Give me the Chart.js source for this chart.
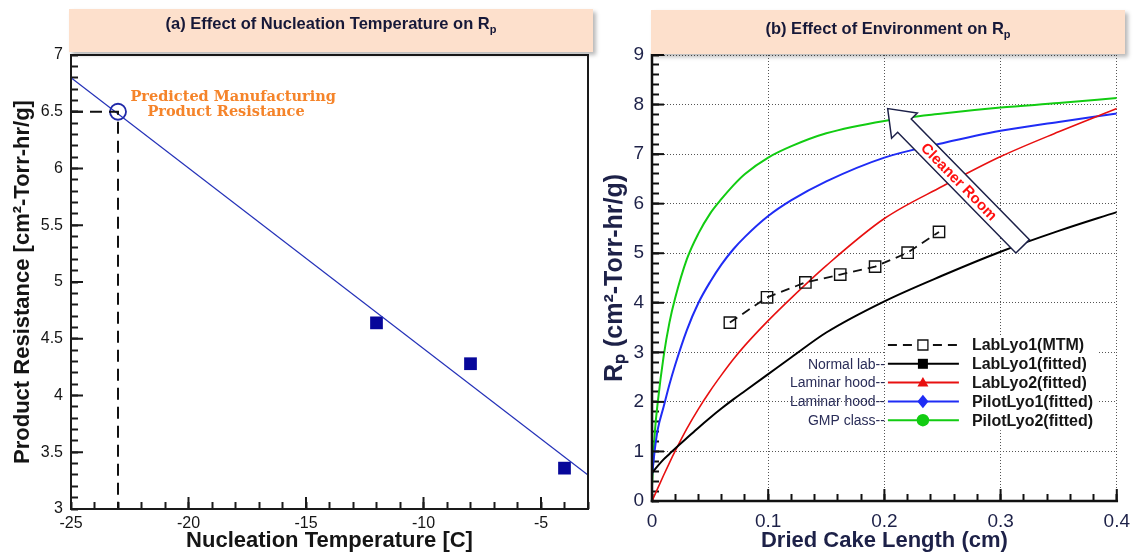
<!DOCTYPE html>
<html>
<head>
<meta charset="utf-8">
<script src="https://cdn.jsdelivr.net/npm/chart.js@4.4.1/dist/chart.umd.min.js"></script>
<style>
html,body{margin:0;padding:0;background:#fff;}
body{width:1146px;height:554px;overflow:hidden;position:relative;font-family:"Liberation Sans",Arial,sans-serif;}
canvas{position:absolute;top:0;}
#c1{left:0;}
#c2{left:600px;}
.ttl{position:absolute;background:#fde0cc;box-shadow:3px 3px 4px rgba(0,0,0,0.28);font-weight:bold;font-size:16.5px;line-height:19px;color:#161838;text-align:center;white-space:nowrap;box-sizing:border-box;}
.ttl sub{font-size:11px;vertical-align:-4px;line-height:0;}
#t1{left:69px;top:9px;width:524px;height:43px;padding-top:5px;}
#t2{left:651px;top:10px;width:474px;height:44px;padding-top:9px;}
</style>
</head>
<body>
<canvas id="c1" width="600" height="554"></canvas>
<canvas id="c2" width="546" height="554"></canvas>
<div class="ttl" id="t1">(a) Effect of Nucleation Temperature on R<sub>p</sub></div>
<div class="ttl" id="t2">(b) Effect of Environment on R<sub>p</sub></div>
<script>
// ---------------- Panel (a) data ----------------
const tempTicks = [-25, -20, -15, -10, -5];
const fitTemp = [-25, -3];
const fitRp = [6.80, 3.30];
const measTemp = [-12, -8, -4];
const measRp = [4.64, 4.28, 3.36];
const predTemp = [-23];
const predRp = [6.5];
const guideTemp = [-25, -23, -23];
const guideRp = [6.5, 6.5, 3.0];
const noteLines = ['Predicted Manufacturing', 'Product Resistance'];

// ---------------- Panel (b) data ----------------
const cakeLength = [0, 0.0025, 0.005, 0.01, 0.015, 0.02, 0.03, 0.04, 0.05, 0.06, 0.07, 0.08, 0.1, 0.12, 0.15, 0.2, 0.25, 0.3, 0.35, 0.4];
const labLyo1Fit = [0.57, 0.64, 0.71, 0.84, 0.95, 1.06, 1.27, 1.48, 1.68, 1.87, 2.05, 2.22, 2.56, 2.90, 3.40, 4.03, 4.55, 5.03, 5.45, 5.83];
const labLyo2Fit = [0, 0.13, 0.26, 0.52, 0.77, 1.01, 1.46, 1.86, 2.22, 2.55, 2.86, 3.14, 3.64, 4.10, 4.75, 5.70, 6.35, 6.95, 7.45, 7.92];
const pilotLyo1Fit = [0.5, 1.05, 1.45, 1.90, 2.35, 2.75, 3.45, 4.00, 4.42, 4.78, 5.08, 5.33, 5.75, 6.07, 6.45, 6.93, 7.22, 7.47, 7.65, 7.82];
const pilotLyo2Fit = [0.3, 1.40, 2.00, 2.92, 3.60, 4.10, 4.88, 5.40, 5.80, 6.10, 6.37, 6.60, 6.93, 7.16, 7.42, 7.67, 7.82, 7.94, 8.03, 8.13];
const mtmLength = [0.067, 0.099, 0.132, 0.162, 0.192, 0.220, 0.247];
const mtmRp = [3.60, 4.11, 4.41, 4.57, 4.73, 5.01, 5.43];
const seriesNames = ['LabLyo1(MTM)', 'LabLyo1(fitted)', 'LabLyo2(fitted)', 'PilotLyo1(fitted)', 'PilotLyo2(fitted)'];
const environments = ['', 'Normal lab--', 'Laminar hood--', 'Laminar hood--', 'GMP class--'];
const arrowText = 'Cleaner Room';

// axis ranges
const tempRange = [-25, -3];
const rpRangeA = [3, 7];
const lengthRange = [0, 0.4];
const rpRangeB = [0, 9];

// ---------------- helpers ----------------
const pts = (xs, ys) => xs.map((x, i) => ({x: x, y: ys[i]}));
const FONT = '"Liberation Sans", Arial, Helvetica, sans-serif';
const NAVY = '#1d2148';
const INK = '#151515';
const numLabel = v => String(Math.round(v * 100) / 100);
const onStep = (v, m) => Math.abs(v / m - Math.round(v / m)) < 1e-6;
const tickValues = (range, step) => {
  const n = Math.round((range[1] - range[0]) / step);
  return Array.from({length: n + 1}, (_, i) => ({value: range[0] + i * step}));
};
const TICK_IN = -7;   // inward tick marks drawn by Chart.js itself

function makeFrame(cfg) {
  return {
    id: 'tecFrame',
    afterDraw(chart) {
      const ctx = chart.ctx, a = chart.chartArea;
      const xs = chart.scales.x, ys = chart.scales.y;
      const w = cfg.width, tw = cfg.tickWidth;
      ctx.save();
      ctx.fillStyle = cfg.color;
      ctx.fillRect(a.left - w / 2, a.top - w / 2, w, a.bottom - a.top + w);
      ctx.fillRect(a.left - w / 2, a.bottom - w / 2, a.right - a.left + w, w);
      if (cfg.box) {
        ctx.fillRect(a.left - w / 2, a.top - w / 2, a.right - a.left + w, w);
        ctx.fillRect(a.right - w / 2, a.top - w / 2, w, a.bottom - a.top + w);
      }
      // longer major ticks
      const nX = Math.round((cfg.xRange[1] - cfg.xRange[0]) / cfg.xMajor);
      for (let i = 0; i <= nX; i++) {
        const v = cfg.xRange[0] + i * cfg.xMajor;
        const vv = Math.ceil((cfg.xRange[0] - 1e-9) / cfg.xMajor) * cfg.xMajor + i * cfg.xMajor;
        if (vv > cfg.xRange[1] + 1e-9) break;
        const px = xs.getPixelForValue(vv);
        ctx.fillRect(px - tw / 2, a.bottom - cfg.majorLen, tw, cfg.majorLen);
      }
      const nY = Math.round((cfg.yRange[1] - cfg.yRange[0]) / cfg.yMajor);
      for (let i = 0; i <= nY; i++) {
        const py = ys.getPixelForValue(cfg.yRange[0] + i * cfg.yMajor);
        ctx.fillRect(a.left, py - tw / 2, cfg.majorLen, tw);
      }
      ctx.restore();
    }
  };
}

function makeNotes(cfg) {
  return {
    id: 'notes',
    afterDatasetsDraw(chart) {
      const ctx = chart.ctx, x = chart.scales.x, y = chart.scales.y;
      ctx.save();
      ctx.fillStyle = cfg.color;
      ctx.font = cfg.font;
      ctx.textAlign = 'left';
      ctx.textBaseline = 'middle';
      noteLines.forEach((t, i) => ctx.fillText(t, x.getPixelForValue(cfg.x[i]), y.getPixelForValue(cfg.y) + i * cfg.lineGap));
      ctx.restore();
    }
  };
}

function makeArrow(o) {
  return {
    id: 'arrow',
    afterDatasetsDraw(chart) {
      const ctx = chart.ctx, x = chart.scales.x, y = chart.scales.y;
      const tx = x.getPixelForValue(o.tip[0]), ty = y.getPixelForValue(o.tip[1]);
      const bx = x.getPixelForValue(o.tail[0]), by = y.getPixelForValue(o.tail[1]);
      const dx = bx - tx, dy = by - ty, len = Math.hypot(dx, dy);
      const ux = dx / len, uy = dy / len, nx = -uy, ny = ux;
      const hx = tx + ux * o.headLen, hy = ty + uy * o.headLen;
      const P = [[tx, ty],
        [hx + nx * o.headHalf, hy + ny * o.headHalf],
        [hx + nx * o.shaftHalf, hy + ny * o.shaftHalf],
        [bx + nx * o.shaftHalf, by + ny * o.shaftHalf],
        [bx - nx * o.shaftHalf, by - ny * o.shaftHalf],
        [hx - nx * o.shaftHalf, hy - ny * o.shaftHalf],
        [hx - nx * o.headHalf, hy - ny * o.headHalf]];
      ctx.save();
      ctx.beginPath();
      P.forEach((p, i) => i ? ctx.lineTo(p[0], p[1]) : ctx.moveTo(p[0], p[1]));
      ctx.closePath();
      ctx.fillStyle = '#ffffff';
      ctx.fill();
      ctx.strokeStyle = o.stroke;
      ctx.lineWidth = 1.5;
      ctx.lineJoin = 'miter';
      ctx.stroke();
      const cx = tx + ux * len * o.textAt, cy = ty + uy * len * o.textAt;
      ctx.translate(cx, cy);
      ctx.rotate(Math.atan2(dy, dx));
      ctx.fillStyle = o.textColor;
      ctx.font = o.font;
      ctx.textAlign = 'center';
      ctx.textBaseline = 'middle';
      ctx.fillText(arrowText, 0, 1);
      ctx.restore();
    }
  };
}

function drawMarker(ctx, style, cx, cy, r, filled, color) {
  ctx.beginPath();
  if (style === 'rect') {
    ctx.rect(cx - r, cy - r, 2 * r, 2 * r);
  } else if (style === 'triangle') {
    ctx.moveTo(cx, cy - r * 1.1); ctx.lineTo(cx + r * 1.1, cy + r * 0.8); ctx.lineTo(cx - r * 1.1, cy + r * 0.8); ctx.closePath();
  } else if (style === 'rectRot') {
    ctx.moveTo(cx, cy - r * 1.35); ctx.lineTo(cx + r * 1.1, cy); ctx.lineTo(cx, cy + r * 1.35); ctx.lineTo(cx - r * 1.1, cy); ctx.closePath();
  } else {
    ctx.arc(cx, cy, r * 1.25, 0, Math.PI * 2);
  }
  if (filled) { ctx.fillStyle = color; ctx.fill(); }
  else { ctx.fillStyle = '#fff'; ctx.fill(); ctx.lineWidth = 1.3; ctx.strokeStyle = color; ctx.stroke(); }
}

function makeLegend(o) {
  return {
    id: 'envLegend',
    afterDatasetsDraw(chart) {
      const ctx = chart.ctx, x = chart.scales.x, y = chart.scales.y;
      const left = x.getPixelForValue(o.at[0]);
      const row0 = y.getPixelForValue(o.at[1]);
      ctx.save();
      ctx.fillStyle = '#ffffff';
      ctx.fillRect(left, row0 - 10, o.boxW, o.rowH * (seriesNames.length - 1) + 20);
      chart.data.datasets.forEach((ds, i) => {
        const cy = row0 + i * o.rowH;
        ctx.setLineDash(ds.borderDash || []);
        ctx.strokeStyle = ds.borderColor;
        ctx.lineWidth = 2;
        ctx.beginPath();
        ctx.moveTo(left + 2, cy); ctx.lineTo(left + 73, cy);
        ctx.stroke();
        ctx.setLineDash([]);
        drawMarker(ctx, ds.markerStyle, left + 37, cy, 5, ds.markerFilled, ds.borderColor);
        ctx.fillStyle = INK;
        ctx.font = 'bold 16px ' + FONT;
        ctx.textAlign = 'left';
        ctx.textBaseline = 'middle';
        ctx.fillText(seriesNames[i], left + 86, cy + 1);
        if (environments[i]) {
          ctx.fillStyle = '#2a2d58';
          ctx.font = '14px ' + FONT;
          ctx.textAlign = 'right';
          ctx.fillText(environments[i], left - 1, cy + 1);
        }
      });
      ctx.restore();
    }
  };
}

const frameA = {box: true, color: '#1a1a1a', width: 2, tickWidth: 2, majorLen: 12, xRange: tempRange, yRange: rpRangeA, xMajor: 5, yMajor: 0.5};
const frameB = {box: false, color: '#111', width: 2.5, tickWidth: 2, majorLen: 12, xRange: lengthRange, yRange: rpRangeB, xMajor: 0.1, yMajor: 1};

// ---------------- Chart (a) ----------------
new Chart(document.getElementById('c1'), {
  type: 'scatter',
  data: {
    datasets: [
      {label: 'Guide', data: pts(guideTemp, guideRp), showLine: true, borderColor: '#111', borderWidth: 2, borderDash: [12, 7], pointRadius: 0},
      {label: 'Fit', data: pts(fitTemp, fitRp), showLine: true, borderColor: '#2431b8', borderWidth: 1.3, pointRadius: 0},
      {label: 'Measured', data: pts(measTemp, measRp), showLine: false, pointStyle: 'rect', pointRadius: 9, backgroundColor: '#07079a', borderColor: '#07079a', borderWidth: 0},
      {label: 'Predicted', data: pts(predTemp, predRp), showLine: false, pointStyle: 'circle', pointRadius: 8, backgroundColor: 'rgba(255,255,255,0)', borderColor: '#1f28a8', borderWidth: 1.8}
    ]
  },
  plugins: [
    makeFrame(frameA),
    makeNotes({x: [-22.47, -21.75], y: 6.63, lineGap: 15.5, color: '#f5842a', font: 'bold 14.5px "DejaVu Serif", "Liberation Serif", serif'})
  ],
  options: {
    responsive: false,
    animation: false,
    events: [],
    layout: {padding: {left: 0, right: 8, top: 55, bottom: 0}},
    plugins: {legend: {display: false}, tooltip: {enabled: false}},
    scales: {
      x: {
        type: 'linear', min: tempRange[0], max: tempRange[1],
        afterBuildTicks: s => { s.ticks = tickValues(tempRange, 1); },
        afterFit: s => { s.height = 45; },
        grid: {display: true, drawOnChartArea: false, drawTicks: true, tickLength: TICK_IN, tickColor: '#1a1a1a', tickWidth: 2},
        border: {display: false},
        ticks: {padding: 5 - TICK_IN, color: INK, font: {family: FONT, size: 16}, autoSkip: false, maxRotation: 0,
          callback: v => tempTicks.includes(Math.round(v)) && onStep(v, 1) ? numLabel(v) : ''},
        title: {display: true, text: 'Nucleation Temperature [C]', color: INK, font: {family: FONT, size: 22, weight: 'bold'}, padding: 0}
      },
      y: {
        type: 'linear', min: rpRangeA[0], max: rpRangeA[1],
        afterBuildTicks: s => { s.ticks = tickValues(rpRangeA, 0.1); },
        afterFit: s => { s.width = 71; },
        grid: {display: true, drawOnChartArea: false, drawTicks: true, tickLength: TICK_IN, tickColor: '#1a1a1a', tickWidth: 2},
        border: {display: false},
        ticks: {padding: 8 - TICK_IN, color: INK, font: {family: FONT, size: 16}, autoSkip: false,
          callback: v => onStep(v, 0.5) ? numLabel(v) : ''},
        title: {display: true, text: 'Product Resistance [cm²-Torr-hr/g]', color: INK, font: {family: FONT, size: 22, weight: 'bold'}, padding: {top: 10, bottom: 0}}
      }
    }
  }
});

// ---------------- Chart (b) ----------------
new Chart(document.getElementById('c2'), {
  type: 'scatter',
  data: {
    datasets: [
      {label: seriesNames[0], data: pts(mtmLength, mtmRp), showLine: true, borderColor: '#111111', borderWidth: 1.8, borderDash: [9, 6],
        pointStyle: 'rect', pointRadius: 8, pointBackgroundColor: 'rgba(255,255,255,0)', pointBorderColor: '#111111', pointBorderWidth: 1.4,
        markerStyle: 'rect', markerFilled: false},
      {label: seriesNames[1], data: pts(cakeLength, labLyo1Fit), showLine: true, borderColor: '#000000', borderWidth: 2, pointRadius: 0, cubicInterpolationMode: 'monotone', markerStyle: 'rect', markerFilled: true},
      {label: seriesNames[2], data: pts(cakeLength, labLyo2Fit), showLine: true, borderColor: '#e81010', borderWidth: 1.6, pointRadius: 0, cubicInterpolationMode: 'monotone', markerStyle: 'triangle', markerFilled: true},
      {label: seriesNames[3], data: pts(cakeLength, pilotLyo1Fit), showLine: true, borderColor: '#1f2cf5', borderWidth: 2, pointRadius: 0, cubicInterpolationMode: 'monotone', markerStyle: 'rectRot', markerFilled: true},
      {label: seriesNames[4], data: pts(cakeLength, pilotLyo2Fit), showLine: true, borderColor: '#12cc12', borderWidth: 2, pointRadius: 0, cubicInterpolationMode: 'monotone', markerStyle: 'circle', markerFilled: true}
    ]
  },
  plugins: [
    makeArrow({tip: [0.2028, 7.92], tail: [0.319, 5.14], headLen: 24, headHalf: 18, shaftHalf: 9.5, stroke: '#1c2048', textAt: 0.53, textColor: '#ff1010', font: 'bold 15px ' + FONT}),
    makeLegend({at: [0.2013, 3.148], rowH: 18.8, boxW: 212}),
    makeFrame(frameB)
  ],
  options: {
    responsive: false,
    animation: false,
    events: [],
    layout: {padding: {left: 0, right: 15, top: 55, bottom: 0}},
    plugins: {legend: {display: false}, tooltip: {enabled: false}},
    scales: {
      x: {
        type: 'linear', min: lengthRange[0], max: lengthRange[1],
        afterBuildTicks: s => { s.ticks = tickValues(lengthRange, 0.02); },
        afterFit: s => { s.height = 53; },
        grid: {lineWidth: 1, drawTicks: true, tickLength: TICK_IN, tickColor: '#111', tickWidth: 2,
          color: c => (c.tick && onStep(c.tick.value, 0.1)) ? '#555' : 'rgba(0,0,0,0)'},
        border: {display: false, dash: [1, 2]},
        ticks: {padding: 9 - TICK_IN, color: NAVY, font: {family: FONT, size: 19}, autoSkip: false, maxRotation: 0,
          callback: v => onStep(v, 0.1) ? numLabel(v) : ''},
        title: {display: true, text: 'Dried Cake Length (cm)', color: NAVY, font: {family: FONT, size: 22, weight: 'bold'}, padding: 0}
      },
      y: {
        type: 'linear', min: rpRangeB[0], max: rpRangeB[1],
        afterBuildTicks: s => { s.ticks = tickValues(rpRangeB, 0.2); },
        afterFit: s => { s.width = 52; },
        grid: {lineWidth: 1, drawTicks: true, tickLength: TICK_IN, tickColor: '#111', tickWidth: 2,
          color: c => (c.tick && onStep(c.tick.value, 1)) ? '#555' : 'rgba(0,0,0,0)'},
        border: {display: false, dash: [1, 2]},
        ticks: {padding: 8 - TICK_IN, color: NAVY, font: {family: FONT, size: 19}, autoSkip: false,
          callback: v => onStep(v, 1) ? numLabel(v) : ''},
        title: {display: true, text: 'Rₚ (cm²-Torr-hr/g)', color: NAVY, font: {family: FONT, size: 25, weight: 'bold'}, padding: {top: 0, bottom: 0}}
      }
    }
  }
});
</script>
</body>
</html>
